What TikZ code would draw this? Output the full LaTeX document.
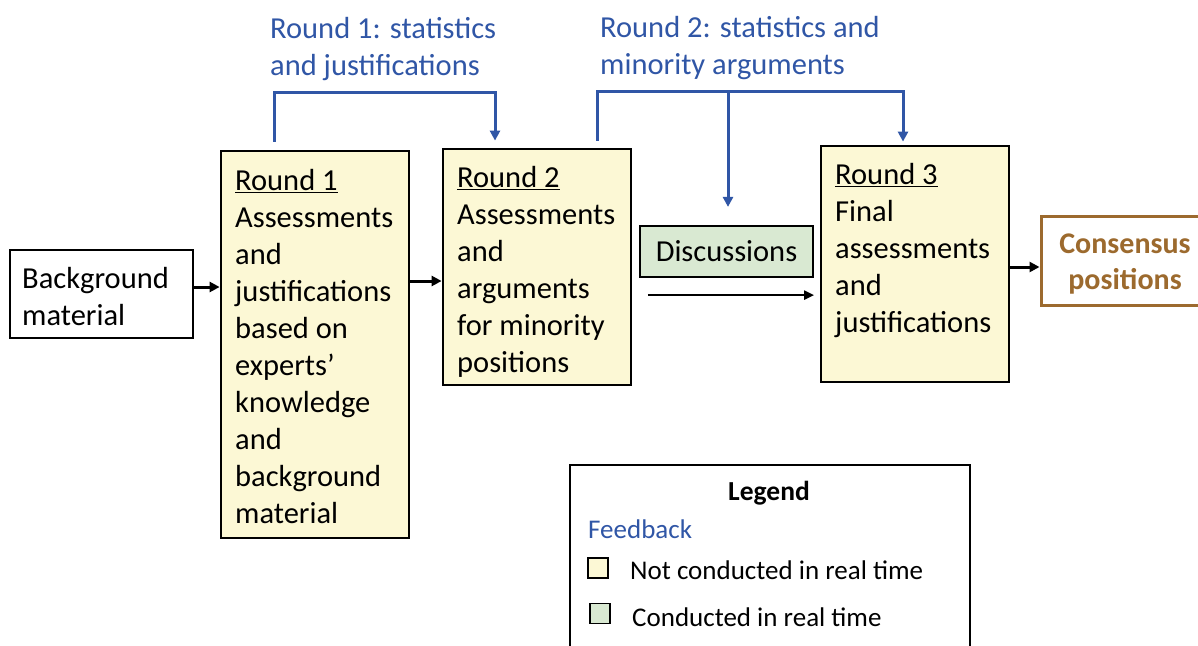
\documentclass[tikz,border=0pt]{standalone}
\usepackage{fontspec}
\setmainfont{Carlito}
\usepackage{xcolor}
\usepackage{tikz}
\usetikzlibrary{arrows.meta}
\definecolor{noteyellow}{HTML}{FCF8D5}
\definecolor{livegreen}{HTML}{D9E9D2}
\definecolor{fbblue}{HTML}{3056A6}
\definecolor{resultbrown}{HTML}{9C6A2E}

\begin{document}
\begin{tikzpicture}[x=1pt, y=-1pt,
    big/.style={font=\fontsize{30.5}{37}\selectfont},
    small/.style={font=\fontsize{27}{32}\selectfont},
    roundbox/.style={draw, line width=2.8pt, fill=noteyellow, inner sep=0pt, minimum width=188pt},
    boxtext/.style={big, anchor=north west, align=left, inner sep=0pt},
    feedback/.style={draw=fbblue, line width=3pt, -{Triangle[length=10pt,width=10pt]}},
    flow/.style={line width=3pt, -{Triangle[length=10pt,width=10pt]}},
    keybox/.style={draw, line width=1.5pt, minimum size=20pt, inner sep=0pt}]

    \useasboundingbox (0,0) rectangle (1198,645);

    \node[draw, line width=1.6pt, minimum width=183pt, minimum height=88pt, inner sep=0pt] (bg) at (101.5,294) {};
    \node[boxtext] (bgtext) at (22,267) {Background\\material};

    \node[roundbox, minimum height=387pt] (r1) at (315,344.5) {};
    \node[boxtext] (r1text) at (235,169) {\underline{Round 1}\\Assessments\\and\\justifications\\based on\\experts’\\knowledge\\and\\background\\material};

    \node[roundbox, minimum height=236pt] (r2) at (537,267) {};
    \node[boxtext] (r2text) at (457,166) {\underline{Round 2}\\Assessments\\and\\arguments\\for minority\\positions};

    \node[roundbox, minimum height=236pt] (r3) at (915,264) {};
    \node[boxtext] (r3text) at (835,163) {\underline{Round 3}\\Final\\assessments\\and\\justifications};

    \node[draw, line width=2.2pt, fill=livegreen, minimum width=173pt, minimum height=51pt, inner sep=0pt, big] (disc) at (726.5,251.5) {Discussions};

    \node[draw=resultbrown, line width=3pt, minimum width=159pt, minimum height=89pt, inner sep=0pt] (cons) at (1120.5,260.5) {};
    \node[text=resultbrown, align=center, inner sep=0pt, font=\fontsize{30}{36}\selectfont\bfseries] (constext) at (1125,264.5) {Consensus\\positions};

    \draw[flow] ([yshift=7]bg.east) -- ([yshift=7]bg.east -| r1.west);
    \draw[flow] ([yshift=63.5]r1.east) -- ([yshift=63.5]r1.east -| r2.west);
    \draw[line width=2.2pt, -{Triangle[length=10pt,width=9pt]}] ([shift={(9,17)}]disc.south west) -- ([shift={(0,17)}]disc.south east);
    \draw[flow] ([yshift=-3]r3.east) -- ([yshift=-3]r3.east -| cons.west);

    \node[boxtext, text=fbblue] (fb1) at (270,17) {Round 1: statistics\\and justifications};
    \node[boxtext, text=fbblue] (fb2) at (600,16) {Round 2: statistics and\\minority arguments};

    \draw[feedback] ([shift={(-41,-8)}]r1.north) -- ++(0,-49) -| ([shift={(-42,-7)}]r2.north);
    \draw[feedback] ([shift={(60,-7)}]r2.north) -- ++(0,-49) -| ([shift={(-12,-3)}]r3.north);
    \coordinate (split) at (728,93);
    \draw[feedback] (split) -- ([yshift=18]split |- disc.north);

    \draw[line width=1.8pt] (570,665) rectangle (970,465);
    \node[small, font=\fontsize{27.5}{32}\selectfont\bfseries] (legend) at (769,493) {Legend};
    \node[small, anchor=west, inner sep=0pt, text=fbblue] (fbkey) at (588,529) {Feedback};
    \node[keybox, fill=noteyellow] (key1) at (598,568) {};
    \node[small, anchor=west, inner sep=0pt] (key1text) at (630,570) {Not conducted in real time};
    \node[keybox, fill=livegreen] (key2) at (600,613.5) {};
    \node[small, anchor=west, inner sep=0pt] (key2text) at (632,617) {Conducted in real time};
\end{tikzpicture}
\end{document}
